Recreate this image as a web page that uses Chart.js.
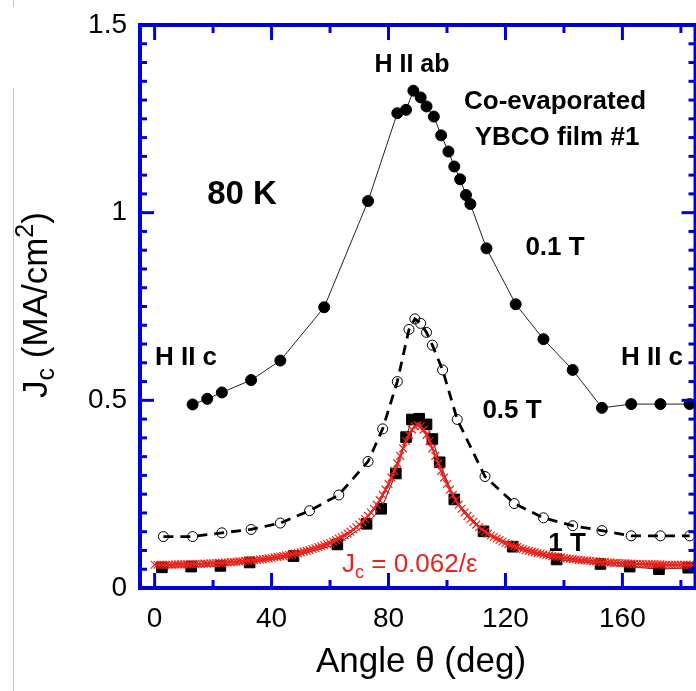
<!DOCTYPE html>
<html>
<head>
<meta charset="utf-8">
<script src="https://cdn.jsdelivr.net/npm/chart.js@4.4.1/dist/chart.umd.min.js"></script>
<style>
  html, body { margin: 0; padding: 0; background: #fff; overflow: hidden; }
  #wrap { position: relative; width: 696px; height: 691px; overflow: hidden; }
  canvas { position: absolute; left: 0; top: 0; }
  .edge { position: absolute; left: 13px; width: 1px; background: #c4c4c4; }
</style>
</head>
<body>
<div id="wrap">
  <canvas id="jcChart" width="704" height="691"></canvas>
  <div class="edge" style="top:0;height:7px"></div>
  <div class="edge" style="top:88px;height:603px"></div>
</div>
<script>
// Jc vs field angle, 80 K, three applied fields plus the 0.062/eps fit
var angle01 = [13, 18, 23, 33, 43, 58, 73, 83, 86, 88.5, 91, 93, 95.5, 98, 100.5, 102.5, 104.5, 106.5, 108, 113.5, 123.5, 133, 143, 153, 163, 173, 183];
var jc01 = [0.489, 0.504, 0.521, 0.554, 0.606, 0.748, 1.031, 1.265, 1.274, 1.325, 1.307, 1.283, 1.256, 1.206, 1.163, 1.123, 1.089, 1.047, 1.023, 0.905, 0.756, 0.663, 0.581, 0.480, 0.490, 0.490, 0.490];

var angle05 = [3, 13, 23, 33, 43, 53, 63, 73, 78, 83, 87, 89, 91, 93, 95, 98.5, 103.5, 113, 123, 133, 143, 153, 163, 173, 183];
var jc05 = [0.137, 0.137, 0.147, 0.156, 0.173, 0.206, 0.248, 0.337, 0.424, 0.550, 0.689, 0.717, 0.705, 0.681, 0.647, 0.581, 0.449, 0.297, 0.225, 0.187, 0.166, 0.153, 0.139, 0.139, 0.139];

var angle1 = [2.5, 12.5, 22.5, 32.5, 47.5, 62.5, 72.5, 77.5, 82.5, 86, 88, 90.5, 93, 95, 97.5, 102.5, 112.5, 122.5, 137.5, 152.5, 162.5, 172.5, 182.5];
var jc1 = [0.055, 0.057, 0.059, 0.068, 0.085, 0.116, 0.171, 0.211, 0.305, 0.402, 0.449, 0.451, 0.436, 0.397, 0.335, 0.236, 0.151, 0.110, 0.076, 0.064, 0.057, 0.050, 0.054];

var fitAngle = [
  0, 1, 2, 3, 4, 5, 6, 7, 8, 9,
  10, 11, 12, 13, 14, 15, 16, 17, 18, 19,
  20, 21, 22, 23, 24, 25, 26, 27, 28, 29,
  30, 31, 32, 33, 34, 35, 36, 37, 38, 39,
  40, 41, 42, 43, 44, 45, 46, 47, 48, 49,
  50, 51, 52, 53, 54, 55, 56, 57, 58, 59,
  60, 61, 62, 63, 64, 65, 66, 67, 68, 69,
  70, 71, 72, 73, 74, 75, 76, 77, 78, 79,
  80, 81, 82, 83, 84, 85, 86, 87, 88, 89,
  90, 91, 92, 93, 94, 95, 96, 97, 98, 99,
  100, 101, 102, 103, 104, 105, 106, 107, 108, 109,
  110, 111, 112, 113, 114, 115, 116, 117, 118, 119,
  120, 121, 122, 123, 124, 125, 126, 127, 128, 129,
  130, 131, 132, 133, 134, 135, 136, 137, 138, 139,
  140, 141, 142, 143, 144, 145, 146, 147, 148, 149,
  150, 151, 152, 153, 154, 155, 156, 157, 158, 159,
  160, 161, 162, 163, 164, 165, 166, 167, 168, 169,
  170, 171, 172, 173, 174, 175, 176, 177, 178, 179,
  180, 181, 182, 183, 184];
var fitJc = [
  .062, .062, .062, .062, .062, .062, .062, .063, .063, .063,
  .063, .063, .063, .064, .064, .064, .064, .065, .065, .066,
  .066, .066, .067, .067, .068, .068, .069, .069, .070, .071,
  .071, .072, .073, .074, .074, .075, .076, .077, .078, .079,
  .080, .082, .083, .084, .085, .087, .088, .090, .092, .093,
  .095, .097, .099, .101, .104, .106, .109, .111, .114, .117,
  .120, .124, .128, .132, .136, .140, .145, .150, .156, .162,
  .169, .176, .184, .192, .201, .211, .222, .234, .248, .262,
  .277, .294, .312, .332, .352, .372, .391, .408, .422, .431,
  .434, .431, .422, .408, .391, .372, .352, .332, .312, .294,
  .277, .262, .248, .234, .222, .211, .201, .192, .184, .176,
  .169, .162, .156, .150, .145, .140, .136, .132, .128, .124,
  .120, .117, .114, .111, .109, .106, .104, .101, .099, .097,
  .095, .093, .092, .090, .088, .087, .085, .084, .083, .082,
  .080, .079, .078, .077, .076, .075, .074, .074, .073, .072,
  .071, .071, .070, .069, .069, .068, .068, .067, .067, .066,
  .066, .066, .065, .065, .064, .064, .064, .064, .063, .063,
  .063, .063, .063, .063, .062, .062, .062, .062, .062, .062,
  .062, .062, .062, .062, .062];

var xMajor = [0, 40, 80, 120, 160];
var xMinor = [20, 60, 100, 140, 180];
var yMajor = [0, 0.5, 1, 1.5];

var FONT = "'Liberation Sans', Arial, sans-serif";
var axisBlue = '#0000dc';
var fitRed = '#e8241c';

function pts(xs, ys) {
    return xs.map(function (v, i) { return {x: v, y: ys[i]}; });
}

// inward ticks on all four sides plus the box
var frame = {
    id: 'frame',
    afterDatasetsDraw: function (chart) {
        var ctx = chart.ctx, a = chart.chartArea;
        var xs = chart.scales.x, ys = chart.scales.y;
        function seg(x0, y0, x1, y1) {
            ctx.beginPath(); ctx.moveTo(x0, y0); ctx.lineTo(x1, y1); ctx.stroke();
        }
        ctx.save();
        ctx.strokeStyle = axisBlue;
        ctx.lineWidth = 3;
        xMajor.forEach(function (v) {
            var p = xs.getPixelForValue(v);
            seg(p, a.bottom, p, a.bottom - 15);
            seg(p, a.top, p, a.top + 15);
        });
        xMinor.forEach(function (v) {
            var p = xs.getPixelForValue(v);
            seg(p, a.bottom, p, a.bottom - 8);
            seg(p, a.top, p, a.top + 8);
        });
        for (var k = 0; k <= 30; k++) {
            var p = ys.getPixelForValue(k * 0.05);
            var len = (k % 10 === 0) ? 14 : 7;
            seg(a.left, p, a.left + len, p);
            seg(a.right, p, a.right - len, p);
        }
        ctx.lineWidth = 4;
        ctx.strokeRect(a.left, a.top, a.right - a.left, a.bottom - a.top);
        ctx.restore();
    }
};

// text made of runs so subscripts / superscripts can be offset
function runsWidth(ctx, runs) {
    var w = 0;
    runs.forEach(function (r) {
        ctx.font = r.size + 'px ' + FONT;
        w += ctx.measureText(r.t).width;
    });
    return w;
}
function drawRuns(ctx, runs, x, y) {
    runs.forEach(function (r) {
        ctx.font = r.size + 'px ' + FONT;
        ctx.fillText(r.t, x, y + (r.dy || 0));
        x += ctx.measureText(r.t).width;
    });
}

var notes = [
    {t: 'H II ab', x: 412, y: 63, size: 25},
    {t: 'Co-evaporated', x: 555, y: 100, size: 26},
    {t: 'YBCO film #1', x: 557, y: 136, size: 26},
    {t: '80 K', x: 242, y: 192, size: 33},
    {t: '0.1 T', x: 555, y: 246, size: 26},
    {t: 'H II c', x: 186, y: 356, size: 26},
    {t: 'H II c', x: 652, y: 356, size: 26},
    {t: '0.5 T', x: 512, y: 409, size: 26},
    {t: '1 T', x: 567, y: 542, size: 26}
];

var labels = {
    id: 'labels',
    afterDraw: function (chart) {
        var ctx = chart.ctx;
        ctx.save();
        ctx.fillStyle = '#000';
        ctx.textBaseline = 'alphabetic';
        ctx.textAlign = 'center';
        notes.forEach(function (n) {
            ctx.font = 'bold ' + n.size + 'px ' + FONT;
            ctx.fillText(n.t, n.x, n.y + n.size * 0.358);
        });

        // x axis title
        ctx.font = '35px ' + FONT;
        ctx.fillText('Angle \u03B8 (deg)', 421, 672);

        // y axis title, rotated
        ctx.textAlign = 'left';
        var yRuns = [
            {t: 'J', size: 35},
            {t: 'c', size: 25, dy: 7},
            {t: ' (MA/cm', size: 35},
            {t: '2', size: 25, dy: -14},
            {t: ')', size: 35}
        ];
        ctx.save();
        ctx.translate(47, 305);
        ctx.rotate(-Math.PI / 2);
        drawRuns(ctx, yRuns, -runsWidth(ctx, yRuns) / 2, 0);
        ctx.restore();

        // fit label
        ctx.fillStyle = fitRed;
        drawRuns(ctx, [
            {t: 'J', size: 26},
            {t: 'c', size: 18, dy: 6},
            {t: ' = 0.062/\u03B5', size: 26}
        ], 342, 572);
        ctx.restore();
    }
};

var ctx = document.getElementById('jcChart').getContext('2d');

var jcChart = new Chart(ctx, {
    type: 'scatter',
    data: {
        datasets: [{
            label: 'fit',
            data: pts(fitAngle, fitJc),
            showLine: true,
            borderColor: fitRed,
            borderWidth: 2,
            pointStyle: 'crossRot',
            pointRadius: 5.5,
            pointBorderWidth: 1.2,
            pointBorderColor: fitRed,
            order: 0
        }, {
            label: '1 T',
            data: pts(angle1, jc1),
            showLine: true,
            borderColor: '#222',
            borderWidth: 1,
            pointStyle: 'rect',
            pointRadius: 7.5,
            pointBackgroundColor: '#000',
            pointBorderColor: '#000',
            order: 1
        }, {
            label: '0.5 T',
            data: pts(angle05, jc05),
            showLine: true,
            borderColor: '#000',
            borderWidth: 2.8,
            borderDash: [10, 7],
            pointStyle: 'circle',
            pointRadius: 5,
            pointBorderWidth: 1,
            pointBorderColor: '#000',
            pointBackgroundColor: 'rgba(0,0,0,0)',
            order: 2
        }, {
            label: '0.1 T',
            data: pts(angle01, jc01),
            showLine: true,
            borderColor: '#222',
            borderWidth: 1,
            pointStyle: 'circle',
            pointRadius: 5.5,
            pointBackgroundColor: '#000',
            pointBorderColor: '#000',
            order: 3
        }]
    },
    options: {
        responsive: false,
        animation: false,
        devicePixelRatio: 1,
        layout: { padding: { top: 25, right: 3, left: 0, bottom: 0 } },
        plugins: { legend: { display: false }, tooltip: { enabled: false } },
        elements: { line: { tension: 0 } },
        scales: {
            x: {
                type: 'linear',
                min: -5,
                max: 185,
                grid: { display: false, drawTicks: false },
                border: { display: false },
                ticks: { color: '#000', font: { family: FONT, size: 28 }, padding: 14 },
                afterBuildTicks: function (s) { s.ticks = xMajor.map(function (v) { return {value: v}; }); },
                afterFit: function (s) { s.height = 103; s.paddingLeft = 0; s.paddingRight = 0; }
            },
            y: {
                type: 'linear',
                min: 0,
                max: 1.5,
                grid: { display: false, drawTicks: false },
                border: { display: false },
                ticks: {
                    color: '#000', font: { family: FONT, size: 28 }, padding: 13,
                    callback: function (v) { return String(v); }
                },
                afterBuildTicks: function (s) { s.ticks = yMajor.map(function (v) { return {value: v}; }); },
                afterFit: function (s) { s.width = 140; s.paddingTop = 0; s.paddingBottom = 0; }
            }
        }
    },
    plugins: [frame, labels]
});
</script>
</body>
</html>
